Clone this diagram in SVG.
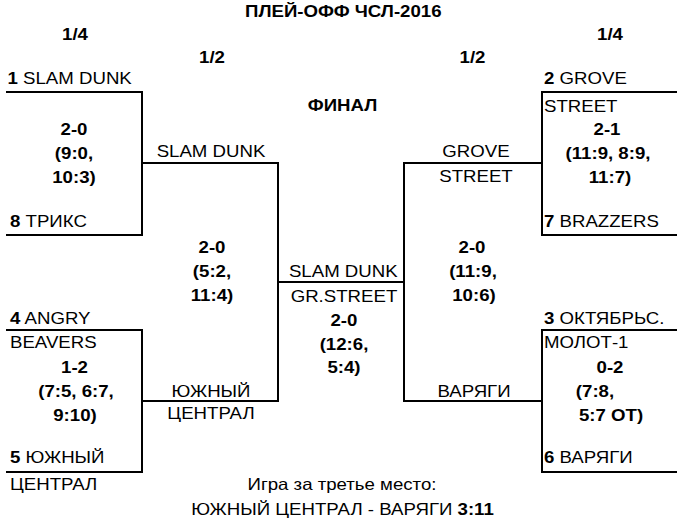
<svg xmlns="http://www.w3.org/2000/svg" width="685" height="523" viewBox="0 0 685 523">
<style>
text{font-family:"Liberation Sans",Arial,sans-serif;font-size:16.5px;fill:#000}
.b{font-weight:bold}
.m{text-anchor:middle}
.ln{fill:none;stroke:#000;stroke-width:2}
</style>
<rect width="685" height="523" fill="#fff"/>
<g id="connectors" class="ln">
<path d="M6 92H142V235H6"/>
<path d="M142 163H278V401H142"/>
<path d="M6 330H142V472H6"/>
<path d="M278 282H404"/>
<path d="M677 92H542V235H677"/>
<path d="M542 163H404V401H542"/>
<path d="M677 330H542V472H677"/>
</g>
<g transform="scale(1.13 1)">
<g id="header">
<text class="b m" x="303.81" y="17">ПЛЕЙ-ОФФ ЧСЛ-2016</text>
<text class="b m" x="66.37" y="40">1/4</text>
<text class="b m" x="187.61" y="63">1/2</text>
<text class="b m" x="418.14" y="63">1/2</text>
<text class="b m" x="539.82" y="40">1/4</text>
<text class="b m" x="303.1" y="111">ФИНАЛ</text>
</g>
<g id="qf1">
<text x="6.64" y="84"><tspan class="b">1</tspan> SLAM DUNK</text>
<text class="b m" x="65.49" y="135">2-0</text>
<text class="b m" x="65.49" y="159">(9:0,</text>
<text class="b m" x="65.49" y="183">10:3)</text>
<text x="8.85" y="227"><tspan class="b">8</tspan> ТРИКС</text>
</g>
<g id="qf2">
<text x="8.85" y="324"><tspan class="b">4</tspan> ANGRY</text>
<text x="8.85" y="348">BEAVERS</text>
<text class="b m" x="65.93" y="373">1-2</text>
<text class="b m" x="67.26" y="397">(7:5, 6:7,</text>
<text class="b m" x="66.37" y="421">9:10)</text>
<text x="8.85" y="463"><tspan class="b">5</tspan> ЮЖНЫЙ</text>
<text x="8.85" y="490">ЦЕНТРАЛ</text>
</g>
<g id="sf1">
<text class="m" x="186.73" y="157">SLAM DUNK</text>
<text class="b m" x="187.61" y="253">2-0</text>
<text class="b m" x="187.61" y="277">(5:2,</text>
<text class="b m" x="187.61" y="301">11:4)</text>
<text class="m" x="186.73" y="397">ЮЖНЫЙ</text>
<text class="m" x="186.73" y="419">ЦЕНТРАЛ</text>
</g>
<g id="final">
<text class="m" x="303.81" y="277">SLAM DUNK</text>
<text class="m" x="304.42" y="302">GR.STREET</text>
<text class="b m" x="304.42" y="326">2-0</text>
<text class="b m" x="304.42" y="350">(12:6,</text>
<text class="b m" x="304.42" y="373">5:4)</text>
</g>
<g id="qf3">
<text x="481.42" y="84"><tspan class="b">2</tspan> GROVE</text>
<text x="481.42" y="112">STREET</text>
<text class="b m" x="537.17" y="135">2-1</text>
<text class="b m" x="538.05" y="159">(11:9, 8:9,</text>
<text class="b m" x="539.82" y="183">11:7)</text>
<text x="481.42" y="227"><tspan class="b">7</tspan> BRAZZERS</text>
</g>
<g id="qf4">
<text x="481.42" y="324"><tspan class="b">3</tspan> ОКТЯБРЬС.</text>
<text x="481.42" y="348">МОЛОТ-1</text>
<text class="b m" x="539.82" y="373">0-2</text>
<text class="b m" x="526.55" y="397">(7:8,</text>
<text class="b m" x="540.71" y="421">5:7 ОТ)</text>
<text x="481.42" y="463"><tspan class="b">6</tspan> ВАРЯГИ</text>
</g>
<g id="sf2">
<text class="m" x="421.24" y="157">GROVE</text>
<text class="m" x="421.24" y="182">STREET</text>
<text class="b m" x="417.7" y="253">2-0</text>
<text class="b m" x="418.58" y="277">(11:9,</text>
<text class="b m" x="419.47" y="301">10:6)</text>
<text class="m" x="419.47" y="397">ВАРЯГИ</text>
</g>
<g id="third">
<text class="m" x="302.65" y="490">Игра за третье место:</text>
<text class="m" x="303.1" y="515">ЮЖНЫЙ ЦЕНТРАЛ - ВАРЯГИ <tspan class="b">3:11</tspan></text>
</g>
</g>
</svg>
